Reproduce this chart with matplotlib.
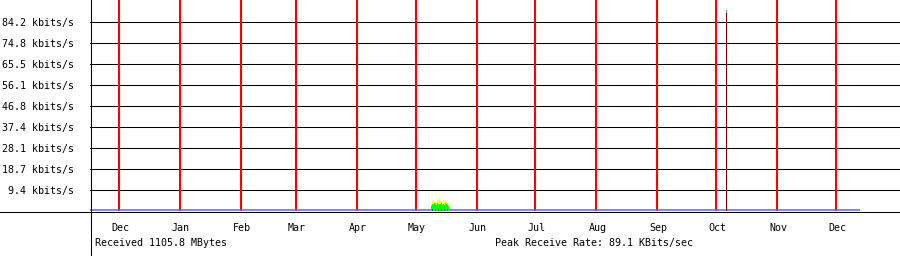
import matplotlib
matplotlib.use("Agg")
import matplotlib.pyplot as plt
import matplotlib.dates as mdates
from matplotlib.lines import Line2D
import datetime as dt
import numpy as np

# ---- data ----
month_starts = ["2018-12-01", "2019-01-01", "2019-02-01", "2019-03-01", "2019-04-01",
                "2019-05-01", "2019-06-01", "2019-07-01", "2019-08-01", "2019-09-01",
                "2019-10-01", "2019-11-01", "2019-12-01"]
month_labels = ["Dec", "Jan", "Feb", "Mar", "Apr", "May", "Jun", "Jul", "Aug", "Sep",
                "Oct", "Nov", "Dec"]
ytick_vals = [9.36, 18.71, 28.07, 37.42, 46.78, 56.13, 65.49, 74.84, 84.2]
ytick_labels = ["9.4 kbits/s", "18.7 kbits/s", "28.1 kbits/s", "37.4 kbits/s",
                "46.8 kbits/s", "56.1 kbits/s", "65.5 kbits/s", "74.8 kbits/s",
                "84.2 kbits/s"]

# baseline traffic (blue), near zero across the year
base_start = "2018-11-16"
base_end = "2019-12-13"
base_value = 0.4

# May activity burst (green = average, yellow = max) in kbits/s
burst_start = "2019-05-09"
burst_green = [2.2, 3.1, 2.7, 3.6, 3.1, 2.7, 3.6, 3.1, 2.7, 3.1, 3.6, 2.7, 3.1, 2.7,
               3.6, 3.1, 2.7, 2.2]
burst_yellow = [3.1, 4.0, 4.9, 4.0, 4.5, 3.6, 4.9, 5.3, 4.0, 4.5, 4.5, 3.6, 4.9, 4.0,
                4.5, 4.0, 3.6, 2.7]

# Peak spike in October
spike_date = "2019-10-06"
spike_value = 89.1

received_text = "Received 1105.8 MBytes"
peak_text = "Peak Receive Rate: 89.1 KBits/sec"

# ---- figure ----
W, H = 900, 256
fig = plt.figure(figsize=(W / 100, H / 100), dpi=100)
fig.patch.set_facecolor("white")
ax = fig.add_axes([90 / W, (H - 211) / H, 810 / W, 211 / H])
for s in ax.spines.values():
    s.set_visible(False)

d = lambda s: mdates.date2num(dt.datetime.strptime(s, "%Y-%m-%d"))
dec1 = d(month_starts[0])
ppd = 717 / 365.0
ax.set_xlim(dec1 - 29 / ppd, d(month_starts[-1]) + 64 / ppd)
ax.set_ylim(0, 211 * 9.356 / 21)

mono = "DejaVu Sans Mono"
fs = 7.2

# horizontal grid
for v in ytick_vals:
    ax.axhline(v, color="black", lw=0.75, zorder=1)
ax.set_yticks(ytick_vals)
ax.set_yticklabels(ytick_labels, fontfamily=mono, fontsize=fs)
ax.tick_params(axis="y", length=0, pad=11.5)
ax.set_xticks([])

# month lines
for m in month_starts:
    ax.axvline(d(m), color="#ff0000", lw=1.5, zorder=2)

# baseline
ax.plot([d(base_start), d(base_end)], [base_value, base_value], color="#6060ff",
        lw=1.1, zorder=3, solid_capstyle="butt")

# burst
bx = d(burst_start) + np.arange(len(burst_green)) * 0.5
ax.bar(bx, burst_yellow, width=0.5, color="#ffff00", zorder=4, align="edge", linewidth=0)
ax.bar(bx, burst_green, width=0.5, color="#00ff00", zorder=5, align="edge", linewidth=0)
ax.bar(bx[1::3], [0.9] * len(bx[1::3]), width=0.5, color="#4040ff", zorder=6,
       align="edge", linewidth=0)

# spike
sx = d(spike_date)
ax.plot([sx, sx], [0, spike_value], color="#800000", lw=0.75, zorder=4)
ax.plot([sx, sx], [spike_value - 0.5, spike_value + 0.5], color="#8080ff", lw=0.75, zorder=5)

# month labels
trans = matplotlib.transforms.blended_transform_factory(ax.transData, fig.transFigure)
for m, lab in zip(month_starts, month_labels):
    ax.text(d(m) + 0.5, (H - 228) / H, lab, transform=trans, ha="center", va="center",
            fontfamily=mono, fontsize=fs)

fig.text(95 / W, (H - 243) / H, received_text, ha="left", va="center",
         fontfamily=mono, fontsize=fs)
fig.text(495 / W, (H - 243) / H, peak_text, ha="left", va="center",
         fontfamily=mono, fontsize=fs)

# axes lines
fig.add_artist(Line2D([0, 1], [(H - 211.5) / H] * 2, color="black", lw=0.75,
                      transform=fig.transFigure))
fig.add_artist(Line2D([90.5 / W] * 2, [0, 1], color="black", lw=0.75,
                      transform=fig.transFigure))

fig.savefig("out.png", dpi=100, facecolor="white")
